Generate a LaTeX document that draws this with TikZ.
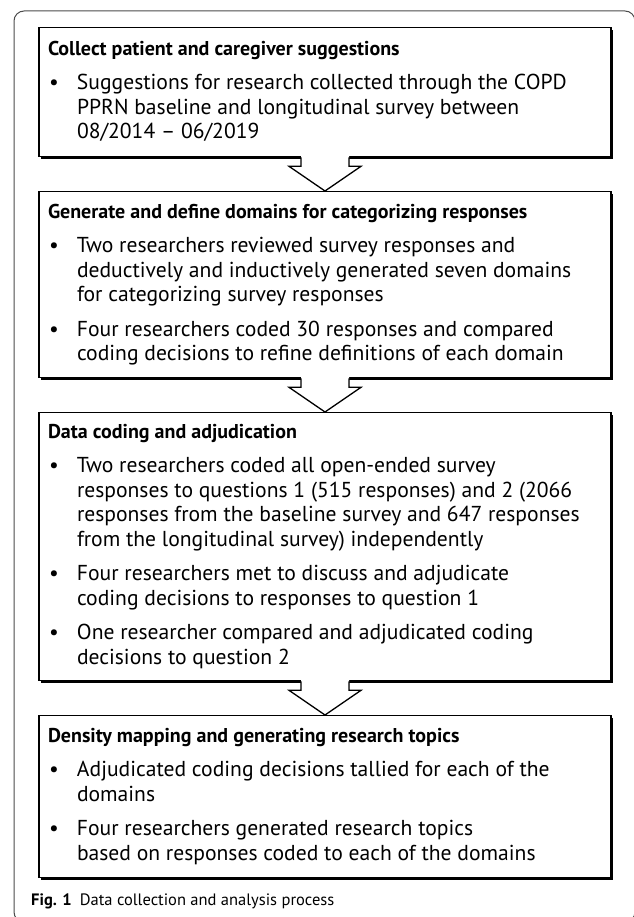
\documentclass[tikz,border=0pt]{standalone}
\usepackage{fontspec}
\setmainfont{PT Sans}
\usetikzlibrary{calc,shadows}
\newcommand{\bodyfnt}{\fontsize{21.6}{24.5}\selectfont}
\newcommand{\headfnt}{\fontsize{20}{24.5}\selectfont\bfseries}
\newcommand{\bul}{\makebox[29pt][l]{\hspace{1pt}\textbullet}}
\newcommand{\boxtext}[1]{\makebox[554pt][l]{\bodyfnt\begin{tabular}{@{}l@{}l@{}}#1\end{tabular}}}
\newcommand{\hd}[1]{\multicolumn{2}{@{}l@{}}{\headfnt #1}\\[9.5pt]}
\tikzset{
  stagebox/.style={draw=black, line width=1.3pt, fill=white, minimum width=572pt,
    inner sep=0pt, anchor=north,
    drop shadow={shadow xshift=2pt, shadow yshift=-2pt, opacity=1, fill=black}},
  frameline/.style={draw=black!70, line width=1pt, rounded corners=10pt},
}
\newcommand{\blockarrow}[2]{%
  \fill[black, xshift=2pt, yshift=-2pt]
    ($(#1.south)+(24,0)$) -- ($(#1.south)+(24,9)$) -- ($(#1.south)+(36,9)$) -- (#2.north) --
    ($(#1.south)+(-36,9)$) -- ($(#1.south)+(-24,9)$) -- ($(#1.south)+(-24,0)$) -- cycle;
  \fill[white]
    ($(#1.south)+(-24,-1.5)$) -- ($(#1.south)+(-24,9)$) -- ($(#1.south)+(-36,9)$) -- (#2.north) --
    ($(#1.south)+(36,9)$) -- ($(#1.south)+(24,9)$) -- ($(#1.south)+(24,-1.5)$) -- cycle;
  \draw[black, line width=1.3pt, line join=miter]
    ($(#1.south)+(-24,0)$) -- ($(#1.south)+(-24,9)$) -- ($(#1.south)+(-36,9)$) -- (#2.north) --
    ($(#1.south)+(36,9)$) -- ($(#1.south)+(24,9)$) -- ($(#1.south)+(24,0)$);
}
\begin{document}
\begin{tikzpicture}[x=1pt,y=-1pt]
\useasboundingbox (0,0) rectangle (633,917);
\fill[white] (0,0) rectangle (633,917);
\draw[frameline] (14,11) rectangle (635,922);

\node[stagebox, minimum height=129pt] (b1) at (325,27) {\boxtext{%
  \hd{Collect patient and caregiver suggestions}
  \bul & Suggestions for research collected through the COPD\\
       & PPRN baseline and longitudinal survey between\\
       & 08/2014 -- 06/2019}};

\node[stagebox, minimum height=186pt] (b2) at (325,191) {\boxtext{%
  \hd{Generate and define domains for categorizing responses}
  \bul & Two researchers reviewed survey responses and\\
       & deductively and inductively generated seven domains\\
       & for categorizing survey responses\\[10pt]
  \bul & Four researchers coded 30 responses and compared\\
       & coding decisions to refine definitions of each domain}};

\node[stagebox, minimum height=268pt] (b3) at (325,412) {\boxtext{%
  \hd{Data coding and adjudication}
  \bul & Two researchers coded all open-ended survey\\
       & responses to questions 1 (515 responses) and 2 (2066\\
       & responses from the baseline survey and 647 responses\\
       & from the longitudinal survey) independently\\[10pt]
  \bul & Four researchers met to discuss and adjudicate\\
       & coding decisions to responses to question 1\\[10pt]
  \bul & One researcher compared and adjudicated coding\\
       & decisions to question 2}};

\node[stagebox, minimum height=162pt] (b4) at (325,715) {\boxtext{%
  \hd{Density mapping and generating research topics}
  \bul & Adjudicated coding decisions tallied for each of the\\
       & domains\\[10pt]
  \bul & Four researchers generated research topics\\
       & based on responses coded to each of the domains}};

\blockarrow{b1}{b2}
\blockarrow{b2}{b3}
\blockarrow{b3}{b4}

\node[anchor=base west, inner sep=0pt, font=\fontsize{16.5}{20}\selectfont] (cap) at (31,905)
  {\textbf{Fig. 1}\hspace{8pt}Data collection and analysis process};
\end{tikzpicture}
\end{document}
